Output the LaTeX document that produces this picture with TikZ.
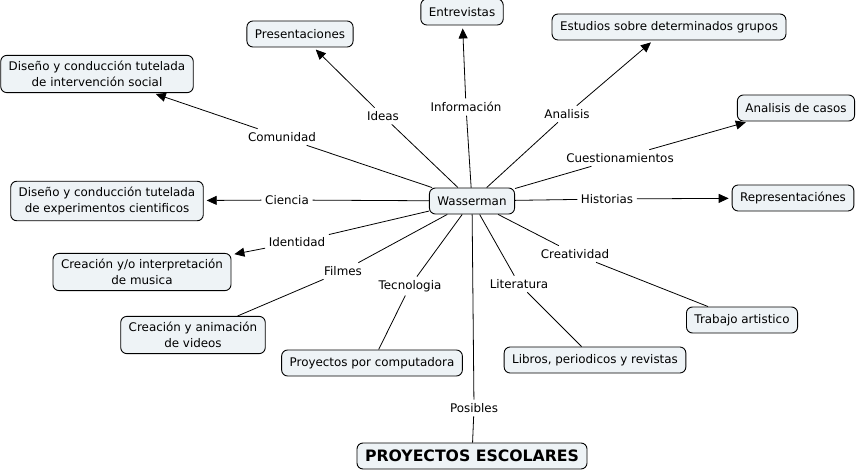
\documentclass[tikz,border=0pt]{standalone}
\usepackage{fontspec}
\setmainfont{DejaVu Sans}
\usepackage{tikz}
\usetikzlibrary{arrows.meta}
\definecolor{boxfill}{RGB}{238,243,246}

\begin{document}
\begin{tikzpicture}[
  x=1pt, y=-1pt,
  font=\fontsize{11.9}{15.5}\selectfont,
  box/.style={draw=black, fill=boxfill, rounded corners=6pt, align=center, inner xsep=8pt, inner ysep=6pt, minimum height=26pt, line width=0.9pt},
  lbl/.style={inner sep=3.5pt},
  link/.style={line width=0.8pt, draw=black},
  arr/.style={link, -{Triangle[length=10pt,width=9pt]}, shorten >=3pt},
]
\useasboundingbox (0,0) rectangle (858,473);
% concepts
\node[box] (wass) at (472,201) {Wasserman};
\node[box] (entr) at (462,12) {Entrevistas};
\node[box] (pres) at (300,34) {Presentaciones};
\node[box] (estu) at (669,27) {Estudios sobre determinados grupos};
\node[box] (dsoc) at (97,74) {Diseño y conducción tutelada\\de intervención social};
\node[box] (casos) at (796,108) {Analisis de casos};
\node[box] (repr) at (793,198) {Representaciónes};
\node[box] (dexp) at (107,201) {Diseño y conducción tutelada\\de experimentos cientificos};
\node[box] (musi) at (142,272) {Creación y/o interpretación\\de musica};
\node[box] (vide) at (193,335) {Creación y animación\\de videos};
\node[box] (comp) at (372,363) {Proyectos por computadora};
\node[box] (libr) at (595,360) {Libros, periodicos y revistas};
\node[box] (arte) at (742,320) {Trabajo artistico};
\node[box, font=\fontsize{15.7}{18}\selectfont\bfseries] (proy) at (472,456) {PROYECTOS ESCOLARES};
% linking phrases
\node[lbl] (ideas) at (383,116) {Ideas};
\node[lbl] (info) at (466,107) {Información};
\node[lbl] (anal) at (567,114) {Analisis};
\node[lbl] (comu) at (282,137) {Comunidad};
\node[lbl] (cues) at (620,158) {Cuestionamientos};
\node[lbl] (cien) at (287,200) {Ciencia};
\node[lbl] (hist) at (607,199) {Historias};
\node[lbl] (iden) at (297,242) {Identidad};
\node[lbl] (crea) at (575,254) {Creatividad};
\node[lbl] (film) at (343,271) {Filmes};
\node[lbl] (tecn) at (410,286) {Tecnologia};
\node[lbl] (lite) at (519,284) {Literatura};
\node[lbl] (posi) at (474,408) {Posibles};
% connectors
\foreach \l in {ideas,info,anal,comu,cues,cien,hist,iden,crea,film,tecn,lite,posi}
  \draw[link] (wass) -- (\l);
\draw[arr] (ideas) -- (pres);
\draw[arr] (info) -- (entr);
\draw[arr] (anal) -- (estu);
\draw[arr] (comu) -- (dsoc);
\draw[arr] (cues) -- (casos);
\draw[arr] (cien) -- (dexp);
\draw[arr] (hist) -- (repr);
\draw[arr] (iden) -- (musi);
\draw[link] (film) -- (vide);
\draw[link] (tecn) -- (comp);
\draw[link] (lite) -- (libr);
\draw[link] (crea) -- (arte);
\draw[link] (posi) -- (proy);
\end{tikzpicture}
\end{document}
